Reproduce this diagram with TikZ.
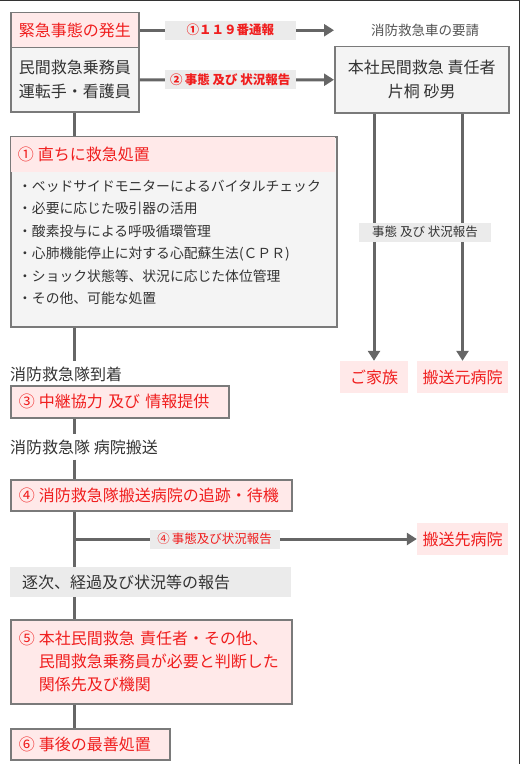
\documentclass[tikz,border=0pt]{standalone}
\usepackage{fontspec}
\setmainfont{Noto Sans CJK JP}
\usetikzlibrary{arrows.meta,positioning,calc}
\definecolor{ered}{HTML}{F01E1E}
\definecolor{epink}{HTML}{FFE9E9}
\definecolor{egray}{HTML}{F4F4F4}
\definecolor{elbl}{HTML}{EBEBEB}
\definecolor{eline}{HTML}{666666}
\definecolor{ebord}{HTML}{7A7A7A}
\definecolor{etxt}{HTML}{333333}
\newcommand\fs[2]{\fontsize{#1bp}{#2bp}\selectfont}
\newcommand\mk[1]{\makebox[20bp][l]{#1}}
\tikzset{
  rbox/.style={draw=ebord, line width=1.5bp, fill=epink, text=ered, font=\fs{16}{23}, inner sep=0pt, anchor=north west},
  gbox/.style={draw=ebord, line width=1.5bp, fill=egray, text=etxt, font=\fs{16}{24}, inner sep=0pt, anchor=north west, align=center},
  tag/.style={fill=epink, text=ered, font=\fs{16}{20}, inner sep=0pt, minimum height=32bp},
  plain/.style={text=etxt, font=\fs{16}{20}, inner xsep=0pt, inner ysep=5bp},
  lbl/.style={fill=elbl, font=\fs{12.5}{15}, inner sep=0pt, minimum height=19bp},
  ln/.style={draw=eline, line width=3bp},
  arr/.style={ln, -{Triangle[length=10bp,width=12bp]}}
}
\begin{document}
\begin{tikzpicture}[x=1bp,y=-1bp]
  \useasboundingbox (0,0) rectangle (520,764);
  \draw[draw=etxt, line width=1.5bp] (0,0.75) -- (519.25,0.75) -- (519.25,764);
  % top row
  \node[rbox, minimum width=128bp, minimum height=35bp] (emg) at (10,12) {緊急事態の発生};
  \node[gbox, minimum width=128bp, minimum height=64bp] (crew) at (10,47) {民間救急乗務員\\運転手・看護員};
  \node[gbox, minimum width=174bp, minimum height=66bp] (boss) at (334,46) {本社民間救急 責任者\\片桐 砂男};
  \node[text=etxt!85, font=\fs{13.5}{16}] (req) at (425,30) {消防救急車の要請};
  \draw[arr] (emg) -- node[lbl, pos=0.467, text=ered, font=\fs{12.5}{15}\bfseries, minimum width=131bp] {①１１９番通報} (emg -| boss.west);
  \draw[arr] (crew) -- node[lbl, pos=0.467, text=ered, font=\fs{12.5}{15}\bfseries, minimum width=131bp] {②\,事態 及び 状況報告} (boss);
  % first aid
  \node[gbox, minimum width=326bp, minimum height=190bp] (act) at (10,136) {};
  \node[fill=epink, text=ered, font=\fs{16}{20}, anchor=north west, text width=310bp, inner xsep=7bp, inner ysep=0pt,
        minimum height=35bp, align=left] (actH) at ([shift={(0.75,0.75)}]act.north west) {\mk{①}直ちに救急処置};
  \node[text=etxt, font=\fs{13.8}{22.4}, align=left, anchor=north west, inner sep=0pt] (actL) at ([shift={(8,44)}]act.north west)
    {・ベッドサイドモニターによるバイタルチェック\\
     ・必要に応じた吸引器の活用\\
     ・酸素投与による呼吸循環管理\\
     ・心肺機能停止に対する心配蘇生法(ＣＰＲ)\\
     ・ショック状態等、状況に応じた体位管理\\
     ・その他、可能な処置};
  \draw[ln] (crew.south) -- (act.north -| crew.south);
  % main line
  \coordinate (tx) at (crew.south);
  \node[plain, anchor=west] (arrive) at (10,374) {消防救急隊到着};
  \draw[ln] (act.south -| tx) -- (arrive.north -| tx);
  \node[rbox, minimum width=218bp, minimum height=32bp, text width=202bp, align=left, inner xsep=8bp] (relay) at (10,385) {\mk{③}中継協力 及び 情報提供};
  \node[plain, anchor=west] (trans) at (10,447) {消防救急隊 病院搬送};
  \draw[ln] (relay.south -| tx) -- (trans.north -| tx);
  \node[rbox, minimum width=281bp, minimum height=31bp, text width=265bp, align=left, inner xsep=8bp] (track) at (10,479) {\mk{④}消防救急隊搬送病院の追跡・待機};
  \draw[ln] (trans.south -| tx) -- (track.north -| tx);
  \node[fill=elbl, text=etxt, font=\fs{16}{20}, anchor=north west, minimum width=281bp, minimum height=30bp, text width=257bp,
        inner xsep=12bp, inner ysep=0pt, align=left] (rep) at (10,567) {逐次、経過及び状況等の報告};
  \draw[ln] (track.south -| tx) -- (rep.north -| tx);
  \node[tag, minimum width=91bp] (dest) at (462.5,539) {搬送先病院};
  \draw[arr] (dest.west -| tx) -- node[lbl, pos=0.409, text=ered, minimum width=130bp] {④\,事態及び状況報告} (dest.west);
  \node[rbox, minimum width=281bp, minimum height=84bp, text width=265bp, align=left, inner xsep=8bp] (five) at (10,619)
    {\mk{⑤}本社民間救急 責任者・その他、\\\hspace*{20bp}民間救急乗務員が必要と判断した\\\hspace*{20bp}関係先及び機関};
  \draw[ln] (rep.south -| tx) -- (five.north -| tx);
  \node[rbox, minimum width=159bp, minimum height=31bp, text width=143bp, align=left, inner xsep=8bp] (six) at (10,728) {\mk{⑥}事後の最善処置};
  \draw[ln] (five.south -| tx) -- (six.north -| tx);
  % right side
  \node[tag, minimum width=68bp] (fam) at (374,377) {ご家族};
  \node[tag, minimum width=91bp] (orig) at (462.5,377) {搬送元病院};
  \draw[arr] (boss.south -| fam) -- (fam);
  \draw[arr] (boss.south -| orig) -- (orig);
  \node[lbl, text=etxt, minimum width=132bp] (info) at (425,232) {事態 及び 状況報告};
\end{tikzpicture}
\end{document}
